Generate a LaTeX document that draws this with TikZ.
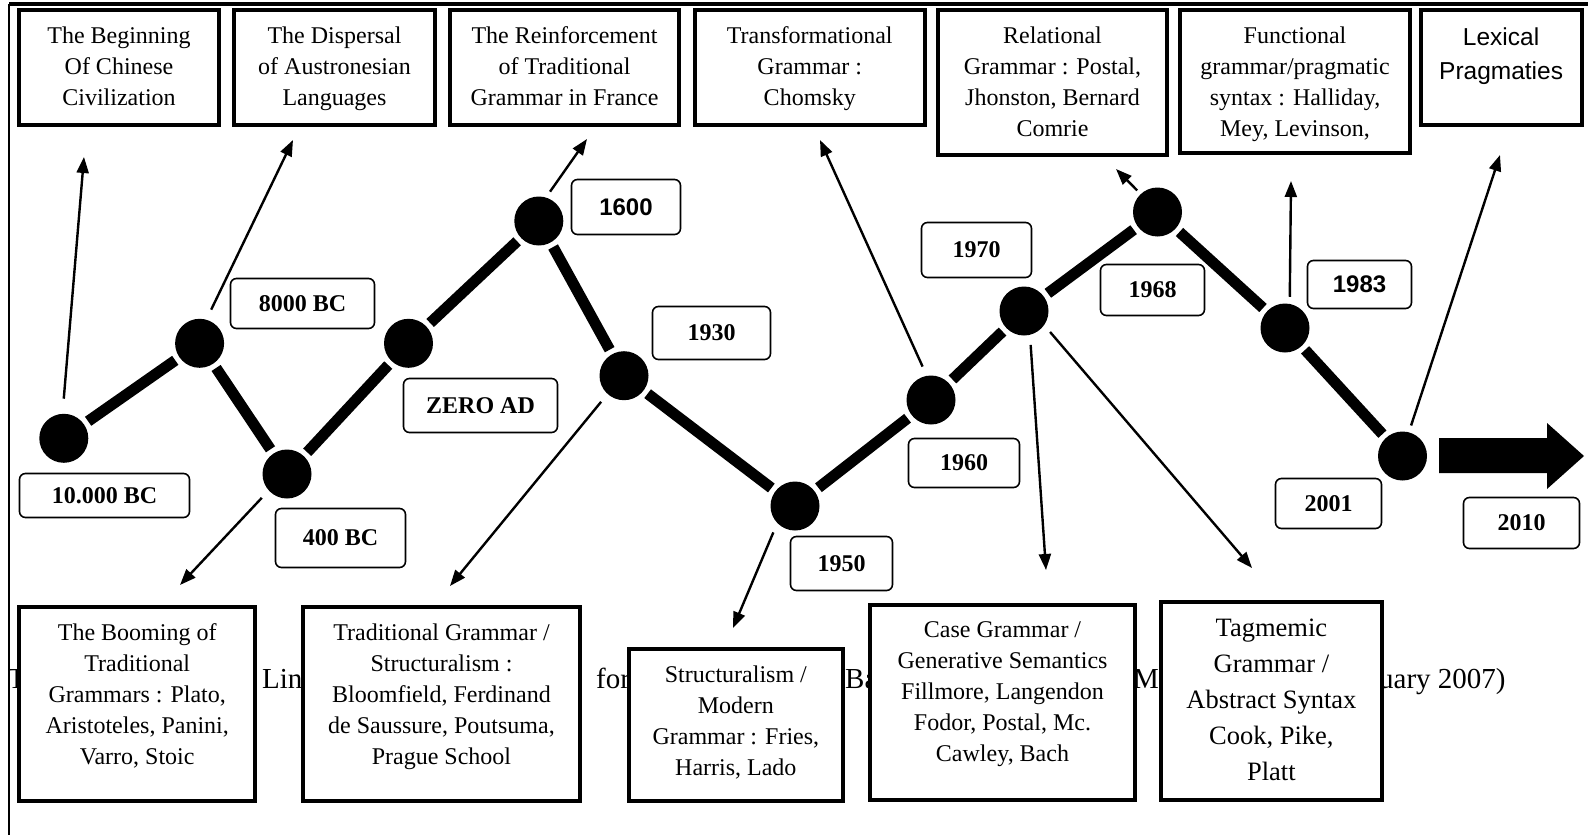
\documentclass[tikz,border=0pt]{standalone}
\usepackage{fontspec}
\setmainfont{Liberation Serif}
\newfontfamily\arialf{Liberation Sans}
\usetikzlibrary{arrows.meta}
\newcommand{\boxtxt}[4]{\parbox[c][#2][t]{#1}{\centering\rule{0pt}{#3}#4}}
\begin{document}
\begin{tikzpicture}[x=1pt,y=-1pt,
  dot/.style={circle, fill=black, minimum size=49pt, inner sep=0pt},
  seg/.style={line width=11pt, shorten >=5pt, shorten <=5pt},
  arr/.style={line width=2.4pt, -{Triangle[length=16pt,width=12pt]}},
  bigbox/.style={draw, line width=4pt, fill=white, inner sep=0pt, font=\fontsize{24}{31}\selectfont},
  datebox/.style={draw, line width=1.6pt, rounded corners=6pt, fill=white, inner sep=0pt, font=\fontsize{24}{28}\selectfont\bfseries},
  datesans/.style={datebox, font=\fontsize{24}{28}\selectfont\arialf\bfseries},
  captext/.style={anchor=base west, inner sep=0pt, font=\fontsize{29}{34}\selectfont}]
\useasboundingbox (0,0) rectangle (1588,835);
\fill[white] (0,0) rectangle (1588,835);
% page border
\draw[line width=3.5pt] (9,4) -- (1588,4);
\draw[line width=1.6pt] (9,4) -- (9,835);
% caption fragments (mostly hidden behind the boxes)
\node[captext] (c1) at (8,688) {T};
\node[captext] (c2) at (262,688) {Lin};
\node[captext] (c3) at (596,688) {for};
\node[captext] (c4) at (845,688) {Ba};
\node[captext] (c5) at (1133,688) {M};
\node[captext] (c6) at (1379,688) {uary 2007)};
% top boxes
\node[bigbox] (t1) at (119,67.5) {\boxtxt{200pt}{115pt}{33pt}{The Beginning\\Of Chinese\\Civilization}};
\node[bigbox] (t2) at (334.5,67.5) {\boxtxt{201pt}{115pt}{33pt}{The Dispersal\\of Austronesian\\Languages}};
\node[bigbox] (t3) at (564.5,67.5) {\boxtxt{229pt}{115pt}{33pt}{The Reinforcement\\of Traditional\\Grammar in France}};
\node[bigbox] (t4) at (809.75,67.5) {\boxtxt{230.5pt}{115pt}{33pt}{Transformational\\Grammar :\\Chomsky}};
\node[bigbox] (t5) at (1052.5,82.5) {\boxtxt{229pt}{145pt}{33pt}{Relational\\Grammar : Postal,\\Jhonston, Bernard\\Comrie}};
\node[bigbox] (t6) at (1295,81.5) {\boxtxt{230pt}{143pt}{33pt}{Functional\\grammar/pragmatic\\syntax : Halliday,\\Mey, Levinson,}};
\node[bigbox, font=\fontsize{24.5}{34.5}\selectfont\arialf] (t7) at (1501.1,67.5) {\boxtxt{161pt}{115pt}{35pt}{Lexical\\Pragmaties}};
% bottom boxes
\node[bigbox] (b1) at (137.2,704) {\boxtxt{235.6pt}{194pt}{33pt}{The Booming of\\Traditional\\Grammars : Plato,\\Aristoteles, Panini,\\Varro, Stoic}};
\node[bigbox] (b2) at (441.5,704) {\boxtxt{277pt}{194pt}{33pt}{Traditional Grammar /\\Structuralism :\\Bloomfield, Ferdinand\\de Saussure, Poutsuma,\\Prague School}};
\node[bigbox] (b3) at (735.85,725) {\boxtxt{213.7pt}{152pt}{33pt}{Structuralism /\\Modern\\Grammar : Fries,\\Harris, Lado}};
\node[bigbox] (b4) at (1002.5,702.35) {\boxtxt{265pt}{194.7pt}{32pt}{Case Grammar /\\Generative Semantics\\Fillmore, Langendon\\Fodor, Postal, Mc.\\Cawley, Bach}};
\node[bigbox, font=\fontsize{26.5}{36}\selectfont] (b5) at (1271.4,700.85) {\boxtxt{221.2pt}{197.7pt}{34pt}{Tagmemic\\Grammar /\\Abstract Syntax\\Cook, Pike,\\Platt}};
% dots
\node[dot] (d1) at (63.8,438.3) {};
\node[dot] (d2) at (199.6,343.3) {};
\node[dot] (d3) at (287,474) {};
\node[dot] (d4) at (408.5,343.3) {};
\node[dot] (d5) at (538.8,221) {};
\node[dot] (d6) at (624,375.7) {};
\node[dot] (d7) at (795,506) {};
\node[dot] (d8) at (931,400) {};
\node[dot] (d9) at (1024,311) {};
\node[dot] (d10) at (1157.5,212) {};
\node[dot] (d11) at (1285,328) {};
\node[dot] (d12) at (1402.5,456) {};
% thick timeline
\draw[seg] (d1) -- (d2);
\draw[seg] (d2) -- (d3);
\draw[seg] (d3) -- (d4);
\draw[seg] (d4) -- (d5);
\draw[seg] (d5) -- (d6);
\draw[seg] (d6) -- (d7);
\draw[seg] (d7) -- (d8);
\draw[seg] (d8) -- (d9);
\draw[seg] (d9) -- (d10);
\draw[seg] (d10) -- (d11);
\draw[seg] (d11) -- (d12);
% block arrow to 2010
\fill (1439,438) -- (1547,438) -- (1547,423) -- (1584,456) -- (1547,489) -- (1547,473) -- (1439,473) -- cycle;
% arrow end points
\coordinate (e1) at (84,157);
\coordinate (e2) at (293,140);
\coordinate (e3) at (180,585);
\coordinate (e5) at (587,139);
\coordinate (e6) at (450,586);
\coordinate (e7) at (733,628);
\coordinate (e8) at (820,140);
\coordinate (e9a) at (1046,570);
\coordinate (e9b) at (1252,568);
\coordinate (e10) at (1116,169);
\coordinate (e11) at (1291,181);
\coordinate (e12) at (1500,155);
% thin arrows
\draw[arr, shorten <=15pt] (d1.93) -- (e1);
\draw[arr, shorten <=11pt] (d2.74) -- (e2);
\draw[arr, shorten <=10pt] (d3.222) -- (e3);
\draw[arr, shorten <=7pt] (d5.73) -- (e5);
\draw[arr, shorten <=10pt] (d6.228) -- (e6);
\draw[arr, shorten <=10pt] (d7.224) -- (e7);
\draw[arr, shorten <=10pt] (d8.100) -- (e8);
\draw[arr, shorten <=10pt] (d9.284) -- (e9a);
\draw[arr, shorten <=9pt] (d9.325) -- (e9b);
\draw[arr, shorten <=5pt] (d10.133) -- (e10);
\draw[arr, shorten <=7pt] (d11.79) -- (e11);
\draw[arr, shorten <=7pt] (d12.75) -- (e12);
% date labels
\node[datebox, minimum width=170pt, minimum height=44pt] (l1) at (104.5,495.5) {10.000 BC};
\node[datebox, minimum width=144pt, minimum height=50pt] (l2) at (302.5,303.5) {8000 BC};
\node[datebox, minimum width=130pt, minimum height=59pt] (l3) at (340.5,538) {400 BC};
\node[datebox, minimum width=154pt, minimum height=54pt] (l4) at (480.5,405.5) {ZERO AD};
\node[datesans, minimum width=109pt, minimum height=55pt] (l5) at (626,207) {1600};
\node[datebox, minimum width=118pt, minimum height=53pt] (l6) at (711.5,333) {1930};
\node[datebox, minimum width=102pt, minimum height=54pt] (l7) at (841.5,563.5) {1950};
\node[datebox, minimum width=111pt, minimum height=49pt] (l8) at (964,463) {1960};
\node[datebox, minimum width=110pt, minimum height=55pt] (l9) at (976.5,250) {1970};
\node[datebox, minimum width=104pt, minimum height=51pt] (l10) at (1152.5,290) {1968};
\node[datesans, minimum width=104pt, minimum height=48pt] (l11) at (1359.5,284.5) {1983};
\node[datebox, minimum width=106pt, minimum height=50pt] (l12) at (1328.5,503.5) {2001};
\node[datebox, minimum width=116pt, minimum height=51pt] (l13) at (1521.5,523) {2010};
\end{tikzpicture}
\end{document}
